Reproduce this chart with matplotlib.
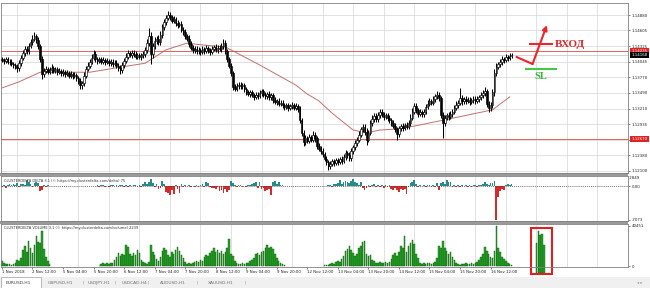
import numpy as np
import matplotlib
matplotlib.use('Agg')
import matplotlib.pyplot as plt
from matplotlib.patches import Rectangle

# ---- data (EURUSD H1, one value per bar) ----
first_open = 1.1409
closes = [
    1.1408, 1.1406, 1.1409, 1.1405, 1.1404, 1.1401, 1.1399, 1.1396, 1.1393, 1.1402, 1.1412, 1.1420, 1.1427, 1.1424, 1.1433, 1.1440,
    1.1446, 1.1450, 1.1443, 1.1432, 1.1410, 1.1382, 1.1388, 1.1392, 1.1387, 1.1390, 1.1394, 1.1389, 1.1391, 1.1386, 1.1388, 1.1384,
    1.1386, 1.1383, 1.1385, 1.1380, 1.1383, 1.1379, 1.1381, 1.1375, 1.1370, 1.1363, 1.1366, 1.1380, 1.1392, 1.1398, 1.1404, 1.1412,
    1.1418, 1.1410, 1.1406, 1.1409, 1.1405, 1.1408, 1.1404, 1.1406, 1.1402, 1.1405, 1.1401, 1.1403, 1.1398, 1.1394, 1.1390, 1.1399,
    1.1406, 1.1414, 1.1420, 1.1417, 1.1421, 1.1418, 1.1414, 1.1416, 1.1413, 1.1416, 1.1419, 1.1425, 1.1438, 1.1450, 1.1418, 1.1432,
    1.1442, 1.1446, 1.1440, 1.1452, 1.1466, 1.1475, 1.1483, 1.1488, 1.1484, 1.1478, 1.1481, 1.1474, 1.1470, 1.1472, 1.1462, 1.1458,
    1.1450, 1.1446, 1.1436, 1.1430, 1.1425, 1.1428, 1.1423, 1.1426, 1.1422, 1.1427, 1.1424, 1.1429, 1.1425, 1.1422, 1.1428, 1.1431,
    1.1426, 1.1430, 1.1427, 1.1433, 1.1438, 1.1424, 1.1410, 1.1398, 1.1385, 1.1360, 1.1357, 1.1362, 1.1364, 1.1361, 1.1363, 1.1356,
    1.1350, 1.1347, 1.1350, 1.1345, 1.1342, 1.1346, 1.1344, 1.1349, 1.1352, 1.1346, 1.1343, 1.1347, 1.1341, 1.1345, 1.1336, 1.1333,
    1.1335, 1.1330, 1.1332, 1.1327, 1.1324, 1.1327, 1.1322, 1.1325, 1.1328, 1.1323, 1.1326, 1.1321, 1.1300, 1.1278, 1.1262, 1.1268,
    1.1264, 1.1270, 1.1266, 1.1275, 1.1268, 1.1255, 1.1250, 1.1246, 1.1240, 1.1232, 1.1226, 1.1218, 1.1222, 1.1227, 1.1224, 1.1229,
    1.1226, 1.1231, 1.1228, 1.1235, 1.1242, 1.1238, 1.1233, 1.1245, 1.1252, 1.1260, 1.1266, 1.1275, 1.1284, 1.1288, 1.1280, 1.1266,
    1.1278, 1.1295, 1.1303, 1.1308, 1.1302, 1.1310, 1.1315, 1.1311, 1.1306, 1.1309, 1.1304, 1.1300, 1.1296, 1.1291, 1.1285, 1.1276,
    1.1286, 1.1290, 1.1287, 1.1292, 1.1289, 1.1295, 1.1305, 1.1316, 1.1326, 1.1318, 1.1312, 1.1315, 1.1311, 1.1316, 1.1324, 1.1330,
    1.1335, 1.1332, 1.1338, 1.1343, 1.1346, 1.1340, 1.1310, 1.1296, 1.1305, 1.1310, 1.1306, 1.1312, 1.1316, 1.1322, 1.1328, 1.1332,
    1.1340, 1.1334, 1.1338, 1.1335, 1.1337, 1.1333, 1.1336, 1.1339, 1.1335, 1.1338, 1.1341, 1.1345, 1.1349, 1.1352, 1.1330, 1.1322,
    1.1328, 1.1350, 1.1385, 1.1396, 1.1400, 1.1404, 1.1410, 1.1408, 1.1413, 1.1411, 1.1415, 1.1417,
]
# wick lengths beyond the body, in pips
up_wick = [
    5, 4, 5, 4, 4, 5, 4, 4, 5, 6, 5, 6, 5, 6, 5, 6,
    6, 8, 5, 5, 4, 5, 6, 5, 4, 5, 6, 4, 5, 4, 5, 4,
    5, 4, 5, 4, 5, 4, 5, 4, 4, 5, 4, 6, 5, 6, 5, 6,
    7, 5, 4, 5, 4, 5, 4, 5, 4, 5, 4, 5, 4, 4, 5, 6,
    5, 6, 5, 4, 5, 4, 5, 4, 5, 4, 5, 6, 7, 15, 8, 6,
    6, 5, 6, 7, 6, 6, 5, 8, 5, 4, 5, 4, 5, 4, 5, 5,
    5, 4, 6, 5, 4, 5, 4, 5, 4, 6, 4, 5, 4, 5, 5, 4,
    5, 4, 5, 5, 7, 5, 4, 4, 4, 4, 5, 5, 4, 5, 4, 4,
    4, 5, 4, 5, 4, 5, 4, 6, 5, 4, 5, 4, 5, 4, 4, 5,
    4, 5, 4, 5, 4, 5, 4, 5, 5, 4, 5, 4, 4, 4, 5, 6,
    5, 6, 5, 7, 5, 4, 5, 4, 5, 4, 5, 4, 6, 5, 5, 4,
    5, 4, 5, 6, 5, 4, 5, 6, 5, 6, 5, 6, 5, 6, 5, 6,
    5, 6, 6, 5, 6, 5, 5, 5, 4, 5, 4, 5, 4, 5, 5, 4,
    5, 4, 6, 4, 5, 5, 6, 6, 6, 5, 4, 5, 4, 5, 5, 6,
    5, 4, 5, 5, 6, 5, 4, 5, 5, 4, 5, 5, 4, 5, 6, 5,
    18, 5, 4, 5, 4, 5, 4, 5, 4, 5, 5, 5, 5, 7, 5, 5,
    5, 7, 6, 6, 5, 6, 5, 4, 5, 4, 5, 4,
]
dn_wick = [
    4, 5, 4, 5, 5, 4, 5, 5, 6, 5, 5, 4, 5, 5, 5, 4,
    5, 5, 5, 5, 6, 8, 5, 4, 5, 4, 5, 4, 5, 5, 4, 5,
    4, 5, 4, 5, 4, 5, 4, 5, 5, 6, 6, 5, 5, 4, 5, 4,
    5, 5, 5, 4, 5, 4, 5, 4, 5, 4, 5, 4, 5, 5, 7, 5,
    5, 4, 5, 4, 5, 5, 4, 5, 4, 5, 4, 5, 5, 5, 18, 6,
    5, 6, 5, 5, 5, 4, 5, 4, 5, 5, 4, 5, 5, 4, 5, 5,
    5, 5, 5, 5, 5, 4, 5, 4, 5, 4, 5, 4, 5, 5, 4, 5,
    4, 5, 4, 5, 5, 5, 5, 5, 6, 6, 5, 4, 5, 4, 5, 5,
    5, 4, 5, 4, 5, 4, 5, 4, 5, 5, 4, 5, 4, 5, 5, 4,
    5, 4, 5, 4, 5, 4, 5, 4, 5, 4, 5, 5, 5, 6, 7, 5,
    5, 4, 5, 5, 6, 5, 5, 5, 5, 5, 5, 7, 5, 4, 5, 4,
    5, 4, 5, 4, 5, 5, 6, 5, 5, 4, 5, 5, 4, 5, 5, 9,
    5, 4, 5, 5, 5, 4, 5, 5, 5, 4, 5, 4, 5, 5, 5, 10,
    5, 4, 5, 4, 5, 4, 5, 5, 5, 5, 5, 4, 5, 4, 5, 4,
    5, 5, 4, 5, 4, 6, 6, 27, 5, 5, 5, 4, 5, 5, 4, 5,
    5, 6, 5, 5, 4, 5, 4, 5, 5, 4, 5, 4, 5, 5, 6, 7,
    5, 5, 6, 5, 5, 5, 5, 5, 4, 5, 4, 4,
]
volume = [
    5000, 3000, 2000, 2500, 2000, 1500, 2500, 3000, 6000, 5000, 8000, 16000, 20000, 14000, 25000, 18000,
    13000, 21000, 30000, 24000, 23000, 35000, 17000, 9000, 5000, 2000, 0, 0, 0, 0, 0, 0,
    0, 0, 0, 0, 0, 0, 0, 0, 0, 0, 0, 0, 0, 0, 0, 0,
    0, 0, 0, 500, 2000, 3000, 2500, 3000, 2000, 3500, 3000, 6000, 9000, 13000, 10000, 12000,
    11000, 21000, 19000, 12000, 10000, 13000, 11000, 16000, 13000, 6000, 4000, 3000, 2500, 4000, 21000, 14000,
    11000, 7000, 5000, 9000, 15000, 18000, 16000, 11000, 9000, 14000, 12000, 16000, 19000, 15000, 11000, 8000,
    4000, 2500, 3000, 2000, 3000, 4000, 5000, 4500, 6000, 5000, 9000, 11000, 10000, 13000, 15000, 18000,
    14000, 16000, 13000, 15000, 12000, 14000, 18000, 27000, 12000, 10000, 5000, 3000, 2500, 2000, 3000, 2500,
    3500, 3000, 5000, 6500, 8000, 12000, 13000, 11000, 14000, 15000, 18000, 21000, 18000, 19000, 17000, 12000,
    8000, 5000, 3000, 2000, 1500, 0, 0, 0, 0, 0, 0, 0, 0, 0, 0, 0,
    0, 0, 0, 0, 0, 0, 0, 0, 0, 1000, 1500, 1000, 2500, 3000, 2500, 4000,
    5000, 4000, 7000, 10000, 15000, 17000, 20000, 16000, 13000, 10000, 12000, 18000, 20000, 24000, 25000, 12000,
    10000, 11000, 6000, 5000, 3000, 3500, 4000, 3000, 3500, 4000, 3000, 4500, 7000, 11000, 13000, 10000,
    14000, 20000, 18000, 30000, 14000, 20000, 23000, 26000, 22000, 12000, 8000, 3000, 2500, 3000, 2000, 3500,
    3000, 2500, 3000, 4000, 8000, 20000, 18000, 25000, 18000, 15000, 12000, 14000, 9000, 6000, 3000, 2000,
    1500, 2500, 2000, 3000, 2500, 2000, 3000, 2500, 3500, 4000, 6000, 9000, 12000, 19000, 15000, 12000,
    9000, 8000, 15000, 40451, 18000, 14000, 9000, 7000, 5000, 3000, 2000, 1500,
]
delta = [
    -300, 200, -400, 300, 400, 200, 500, 300, 600, -200, 400, 500, 300, 1200, 800, 500,
    -300, 700, 900, 600, -1000, -800, 300, -200, 200, 100, 0, 0, 0, 0, 0, 0,
    0, 0, 0, 0, 0, 0, 0, 0, 0, 0, 0, 0, 0, 0, 0, 0,
    0, 0, 200, -300, 200, 300, -200, 100, -300, 200, 300, -100, 200, -300, 300, 200,
    -200, 300, -300, 200, -100, 300, 200, -200, 300, -300, 500, 800, 400, 900, 1400, 600,
    -300, 400, -600, -500, 1000, 500, -1200, -1500, -1900, -800, -1700, 300, -600, -1400, 400, -200,
    300, -100, 200, -300, 100, -200, 300, -300, 200, 400, -200, 900, 600, -300, -500, -400,
    -600, -300, -1000, -800, -1500, -600, -1300, -900, 1000, 700, 200, -300, 200, 300, -200, 100,
    -300, 200, 300, 400, 700, 900, -400, 800, -700, -500, -1000, -800, -600, -1800, 900, 1100,
    500, 800, 300, 200, 100, 0, 0, 0, 0, 0, 0, 0, 0, 0, 0, 0,
    0, 0, 0, 0, 0, 0, 0, 0, 0, 100, -100, 200, 300, -200, 400, 500,
    700, 1200, 500, 800, 1000, 900, 700, 1100, 1400, 900, 600, 300, 900, -500, -900, -400,
    200, -200, 300, 400, -300, 200, -300, 200, -400, 300, -300, 200, -600, -900, -400, -800,
    -1200, -700, -900, -600, -1600, -300, 700, 900, 1300, 500, -200, 200, -100, 300, -200, 200,
    300, -300, 200, -200, 700, -900, 600, 900, 500, 1200, 800, 900, -300, 200, -200, 300,
    -200, 200, -100, 300, -200, 200, -300, 200, 300, -200, 200, 300, 500, 900, 400, 300,
    700, 600, 1100, -7073, -2400, -1100, -700, -900, 300, 500, 200, 400,
]
# moving average, read at a few bars
ma_bars = [0, 9, 20, 30, 46, 62, 75, 86, 97, 104, 117, 121, 135, 154, 160, 166, 173, 184, 191, 198, 208, 219, 236, 257, 266]
ma_vals = [1.1358, 1.1369, 1.1386, 1.1386, 1.1386, 1.1395, 1.1402, 1.1426, 1.1438, 1.1435, 1.1431, 1.1424, 1.1399,
           1.1363, 1.1347, 1.1335, 1.1313, 1.1283, 1.1278, 1.1283, 1.1285, 1.1292, 1.1304, 1.1319, 1.1342]

price_ticks = [1.12100, 1.12380, 1.12655, 1.12935, 1.13210, 1.13490, 1.13770, 1.14045, 1.14325, 1.14605, 1.14880]
level_hi = 1.14235
level_lo = 1.12670
bid = 1.14168
time_labels = ['1 Nov 2018', '2 Nov 12:00', '5 Nov 04:00', '5 Nov 20:00', '6 Nov 12:00', '7 Nov 04:00',
               '7 Nov 20:00', '8 Nov 12:00', '9 Nov 04:00', '9 Nov 20:00', '12 Nov 12:00', '13 Nov 04:00',
               '13 Nov 20:00', '14 Nov 12:00', '15 Nov 04:00', '15 Nov 20:00', '16 Nov 12:00']

# hand drawn marks on the chart (bar, price)
entry_line = ([276, 288.5], [1.14363, 1.14363])
entry_tick = ([269.6, 278.0], [1.14132, 1.14007])
entry_arrow = ((278.0, 1.14007), (285.5, 1.14700))
sl_line = ([274, 291], [1.13918, 1.13918])
pasted_bars = [280, 281, 282, 283, 284]
pasted_tops = [23000, 35000, 31000, 32000, 21000]
pasted_bottom = -7000

W, H = 650, 288
pip = 0.0001


def px_box(l, t, r, b):
    return [l / W, 1 - b / H, (r - l) / W, (b - t) / H]


fig = plt.figure(figsize=(6.5, 2.88), dpi=100)
bg = fig.add_axes([0, 0, 1, 1])
bg.set_xlim(0, W)
bg.set_ylim(H, 0)
bg.axis('off')

ax = fig.add_axes(px_box(1, 3, 628, 173))
axd = fig.add_axes(px_box(1, 176, 628, 221))
axv = fig.add_axes(px_box(1, 224, 628, 267))

bars = np.arange(len(closes))
grid_bars = np.arange(8, 330, 16)
for a in (ax, axd, axv):
    a.set_xlim(-0.5, 327.8)
    for s in a.spines.values():
        s.set_color('#808080')
        s.set_linewidth(0.6)
    a.set_xticks(grid_bars, minor=True)
    a.grid(which='minor', axis='x', color='#dcdcdc', lw=0.6)
    a.tick_params(which='minor', length=0)
    a.yaxis.tick_right()
    a.tick_params(axis='y', labelsize=2.8, length=1.5, width=0.4, pad=1, colors='#202020')
    a.set_axisbelow(True)
ax.set_xticks([])
axd.set_xticks([])

# ---- main price panel ----
c = np.array(closes)
o = np.concatenate([[first_open], c[:-1]])
hi = np.maximum(o, c) + np.array(up_wick) * pip
lo = np.minimum(o, c) - np.array(dn_wick) * pip
bull = c >= o
body = np.maximum(np.abs(c - o), 0.00004)
ax.vlines(bars, lo, hi, color='black', lw=0.75, zorder=3)
ax.bar(bars[bull], body[bull], bottom=o[bull], width=0.8, color='white', edgecolor='black', lw=0.45, zorder=4)
ax.bar(bars[~bull], body[~bull], bottom=c[~bull], width=0.8, color='black', edgecolor='black', lw=0.45, zorder=4)
ax.plot(ma_bars, ma_vals, color='#c07070', lw=0.7, zorder=2)
ax.axhline(level_hi, color='#e04a3c', lw=0.6, zorder=2.5)
ax.axhline(level_lo, color='#e04a3c', lw=0.6, zorder=2.5)
ax.axhline(bid, color='#c0c0c0', lw=0.5, zorder=1)

ax.set_ylim(1.12064, 1.15094)
ax.set_yticks(price_ticks)
ax.set_yticklabels(['%.5f' % p if p != 1.12655 else '' for p in price_ticks])
ax.grid(axis='y', color='#dcdcdc', lw=0.6)

for val, fc in ((level_hi, '#e02222'), (bid, '#000000'), (level_lo, '#e02222')):
    ax.annotate('%.5f' % val, xy=(1.0, val), xycoords=('axes fraction', 'data'),
                xytext=(2.5, 0), textcoords='offset points', ha='left', va='center',
                fontsize=2.8, color='white',
                bbox=dict(boxstyle='square,pad=0.35', fc=fc, ec='none'), annotation_clip=False)

# entry / stop-loss sketch
ax.plot(*entry_line, color='#e8262b', lw=1.5, solid_capstyle='butt', zorder=6)
ax.plot(*entry_tick, color='#e8262b', lw=1.5, solid_capstyle='round', zorder=6)
ax.annotate('', xy=entry_arrow[1], xytext=entry_arrow[0],
            arrowprops=dict(arrowstyle='-|>', color='#e8262b', lw=1.5, mutation_scale=7, shrinkA=0, shrinkB=0),
            zorder=6)
ax.text(289.5, entry_line[1][0], 'ВХОД', color='#d8262b', fontsize=8, fontweight='bold',
        family=['Liberation Serif', 'DejaVu Serif'], ha='left', va='center', zorder=6)
ax.plot(*sl_line, color='#45c845', lw=1.5, solid_capstyle='butt', zorder=6)
ax.text(279, 1.13790, 'SL', color='#3cb43c', fontsize=7.5, fontweight='bold',
        family=['Liberation Serif', 'DejaVu Serif'], ha='left', va='center', zorder=6)

# ---- delta panel ----
d = np.array(delta)
nz = d != 0
dcol = np.where(d > 0, '#2a8a8a', '#d42a2a')
axd.bar(bars[nz], d[nz], width=0.9, color=dcol[nz], lw=0)
axd.axhline(0, color='#404040', lw=0.5, ls=(0, (1.5, 1.5)))
axd.set_ylim(-7385, 2110)
axd.set_yticks([0, -7073])
axd.set_yticklabels(['0.00', '-7073'])
axd.text(1.0, 1.0, ' 2849', transform=axd.transAxes, fontsize=2.8, ha='left', va='top', color='#202020')
axd.text(0.004, 0.93, 'CLUSTERDELTA DELTA 3.1 (© https://my.clusterdelta.com/delta) 75',
         transform=axd.transAxes, fontsize=2.6, ha='left', va='top', color='#303030')

# ---- volume panel ----
v = np.array(volume)
vz = v > 0
axv.bar(bars[vz], v[vz], width=0.8, color='#26a526', edgecolor='#0f5a0f', lw=0.3)
axv.bar(pasted_bars, np.array(pasted_tops) - pasted_bottom, bottom=pasted_bottom, width=0.8,
        color='#26a526', edgecolor='#0f5a0f', lw=0.3, clip_on=False)
axv.add_patch(Rectangle((277.2, -8000), 10.8, 46000, fill=False, ec='#e02020', lw=1.5, clip_on=False))
axv.set_ylim(-1000, 42000)
axv.set_yticks([0, 40451])
axv.set_yticklabels(['0', '40451'])
axv.text(0.004, 0.95, 'CLUSTERDELTA VOLUME 3.1 (© https://my.clusterdelta.com/volume) 2239',
         transform=axv.transAxes, fontsize=2.6, ha='left', va='top', color='#303030')
axv.set_xticks(np.arange(0, 16 * len(time_labels), 16))
axv.set_xticklabels(time_labels, ha='left')
axv.tick_params(axis='x', labelsize=2.8, length=1.5, width=0.4, pad=1, colors='#202020')

# ---- window chrome ----
bg.add_patch(Rectangle((0, 173), 628, 3, color='#9a9a9a', lw=0))
bg.add_patch(Rectangle((0, 221), 628, 3, color='#9a9a9a', lw=0))
bg.add_patch(Rectangle((0, 277), W, 11, color='#f0f0f0', lw=0))
bg.add_patch(Rectangle((1, 277), 40, 11, fc='white', ec='#a0a0a0', lw=0.5))
bg.text(4, 7, '▼', fontsize=2.6, ha='left', va='center', color='#202020')
bg.text(9, 7, 'EURUSD,H1  1.14159 1.14198 1.14128 1.14168', fontsize=2.6, ha='left', va='center', color='#202020')
tabs = [('EURUSD,H1', 6), ('GBPUSD,H1', 48), ('USDJPY,H1', 88), ('USDCAD,H4', 122), ('AUDUSD,H1', 160), ('XAUUSD,H1', 208)]
for name, x in tabs:
    bg.text(x, 283, name, fontsize=3.2, ha='left', va='center', color='#404040' if x == 6 else '#707070')
for x in (83, 115, 148, 197, 245):
    bg.text(x, 283, '|', fontsize=3.2, ha='center', va='center', color='#909090')
bg.text(640, 283, '◂ ▸', fontsize=3, ha='center', va='center', color='#909090')

fig.savefig('out.png', dpi=100)
